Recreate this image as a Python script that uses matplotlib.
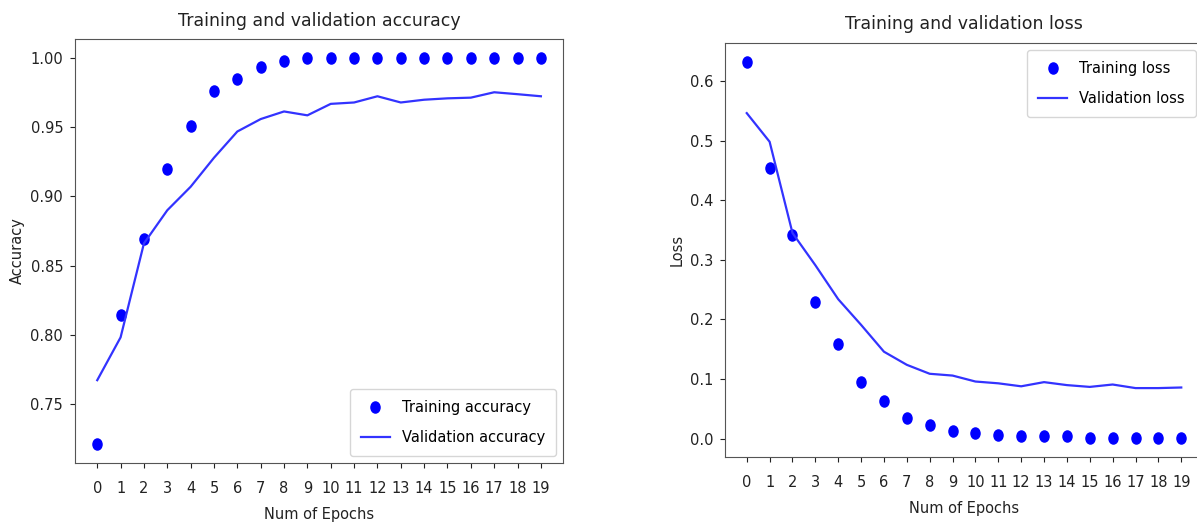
import numpy as np
import matplotlib
matplotlib.use("Agg")
import matplotlib.pyplot as plt
from matplotlib.path import Path
from matplotlib.transforms import Affine2D

epochs = list(range(20))

train_acc = [0.721, 0.814, 0.869, 0.920, 0.951, 0.976, 0.985, 0.994, 0.998, 1.0,
             1.0, 1.0, 1.0, 1.0, 1.0, 1.0, 1.0, 1.0, 1.0, 1.0]
val_acc = [0.767, 0.798, 0.866, 0.890, 0.907, 0.928, 0.947, 0.956, 0.9615, 0.9587,
           0.967, 0.968, 0.9725, 0.968, 0.970, 0.971, 0.9715, 0.9754, 0.974, 0.9725]

train_loss = [0.632, 0.454, 0.342, 0.230, 0.159, 0.096, 0.064, 0.035, 0.023, 0.013,
              0.010, 0.007, 0.004, 0.004, 0.004, 0.001, 0.001, 0.001, 0.001, 0.001]
val_loss = [0.546, 0.498, 0.345, 0.291, 0.234, 0.191, 0.146, 0.124, 0.109, 0.106,
            0.096, 0.093, 0.088, 0.095, 0.090, 0.087, 0.091, 0.085, 0.085, 0.086]

SPINE = "#555555"
TEXT = "#222222"

# the reference dots are a bit taller than wide
ELLIPSE = Path.unit_circle().transformed(Affine2D().scale(0.82, 1.0))

fig = plt.figure(figsize=(11.97, 5.27), dpi=100)
ax1 = fig.add_axes([0.0627, 0.1214, 0.4077, 0.8046])
ax2 = fig.add_axes([0.6057, 0.1328, 0.3993, 0.7856])

panels = [
    (ax1, train_acc, val_acc, "Training accuracy", "Validation accuracy",
     "Training and validation accuracy", "Accuracy", "lower right", 9),
    (ax2, train_loss, val_loss, "Training loss", "Validation loss",
     "Training and validation loss", "Loss", "upper right", 10),
]

for ax, tr, va, tr_lab, va_lab, title, ylab, loc, tpad in panels:
    ax.plot(epochs, tr, linestyle="none", marker=ELLIPSE, color="#0000ff",
            markersize=8, label=tr_lab)
    ax.plot(epochs, va, "-", color="#3333ff", linewidth=1.6, label=va_lab)
    ax.set_title(title, fontsize=12.5, color=TEXT, pad=tpad)
    ax.set_xlabel("Num of Epochs", fontsize=10.5, color=TEXT, labelpad=8)
    ax.set_ylabel(ylab, fontsize=10.5, color=TEXT)
    ax.set_xticks(epochs)
    ax.tick_params(labelsize=10.5, colors=TEXT)
    ax.tick_params(axis="x", pad=9.5)
    ax.tick_params(axis="y", pad=5)
    for s in ax.spines.values():
        s.set_color(SPINE)
    ax.legend(loc=loc, fontsize=10.5, labelspacing=1.0, borderpad=0.75)

fig.savefig("out.png", dpi=100)
